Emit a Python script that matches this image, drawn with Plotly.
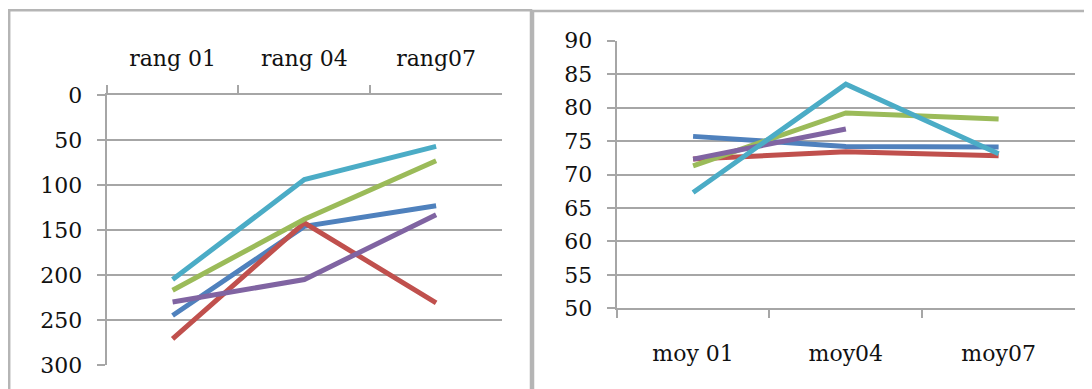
import plotly.graph_objects as go

# ---- data ----
rang_categories = ["rang 01", "rang 04", "rang07"]
moy_categories = ["moy 01", "moy04", "moy07"]

series_names = ["Série 1", "Série 2", "Série 3", "Série 4", "Série 5"]
series_colors = ["#4F81BD", "#C0504D", "#9BBB59", "#8064A2", "#4BACC6"]

rang_s1 = [245, 146, 123]
rang_s2 = [271, 142, 231]
rang_s3 = [217, 138, 73]
rang_s4 = [230, 205, 133]
rang_s5 = [205, 94, 57]

moy_s1 = [75.7, 74.2, 74.1]
moy_s2 = [72.3, 73.4, 72.8]
moy_s3 = [71.3, 79.2, 78.3]
moy_s4 = [72.3, 76.8, None]
moy_s5 = [67.3, 83.5, 73.1]

rang_values = [rang_s1, rang_s2, rang_s3, rang_s4, rang_s5]
moy_values = [moy_s1, moy_s2, moy_s3, moy_s4, moy_s5]

# The page body has an 8px margin: size the figure to fit the 1092x389 window
OFF = 8
W, H = 1092 - OFF, 389 - OFF
FONT = "DejaVu Serif"
GRID = "#A6A6A6"


def fx(px):
    return (px - OFF) / W


def fy(py):
    return 1 - (py - OFF) / H


fig = go.Figure()
for name, col, vals in zip(series_names, series_colors, rang_values):
    fig.add_trace(go.Scatter(x=rang_categories, y=vals, mode="lines", name=name,
                             line=dict(color=col, width=5), xaxis="x", yaxis="y",
                             showlegend=False))
for name, col, vals in zip(series_names, series_colors, moy_values):
    fig.add_trace(go.Scatter(x=moy_categories, y=vals, mode="lines", name=name,
                             line=dict(color=col, width=5), xaxis="x2", yaxis="y2",
                             showlegend=False, connectgaps=False))

axis_common = dict(showline=True, linecolor=GRID, linewidth=2,
                   ticks="outside", ticklen=8, tickcolor=GRID, tickwidth=2,
                   tickfont=dict(family=FONT, size=22, color="#111111"),
                   zeroline=False, automargin=False)

fig.update_layout(
    width=W, height=H, autosize=False,
    margin=dict(l=0, r=0, t=0, b=0, pad=0),
    paper_bgcolor="white", plot_bgcolor="white",
    xaxis=dict(domain=[fx(106.7), fx(502)], anchor="y", side="top",
               type="category", range=[-0.5, 2.5], tickson="boundaries",
               showgrid=False, ticklabelstandoff=18, **axis_common),
    yaxis=dict(domain=[fy(365), fy(95)], anchor="x",
               range=[300, 0], tickmode="linear", tick0=0, dtick=50,
               showgrid=True, gridcolor=GRID, gridwidth=2,
               ticklabelstandoff=10, **axis_common),
    xaxis2=dict(domain=[fx(616.7), fx(1075)], anchor="y2", side="bottom",
                type="category", range=[-0.5, 2.5], tickson="boundaries",
                showgrid=False, ticklabelstandoff=24, **axis_common),
    yaxis2=dict(domain=[fy(308.3), fy(40.7)], anchor="x2",
                range=[50, 90], tickmode="linear", tick0=50, dtick=5,
                showgrid=True, gridcolor=GRID, gridwidth=2,
                ticklabelstandoff=10, **axis_common),
    shapes=[
        dict(type="rect", xref="paper", yref="paper",
             x0=fx(9.2), x1=fx(531), y0=-0.2, y1=fy(10.3),
             line=dict(color="#B5B5B5", width=2.5), layer="below"),
        dict(type="rect", xref="paper", yref="paper",
             x0=fx(533), x1=1.2, y0=-0.2, y1=fy(11),
             line=dict(color="#B5B5B5", width=2.5), layer="below"),
    ],
)

fig.write_html("out.html")
